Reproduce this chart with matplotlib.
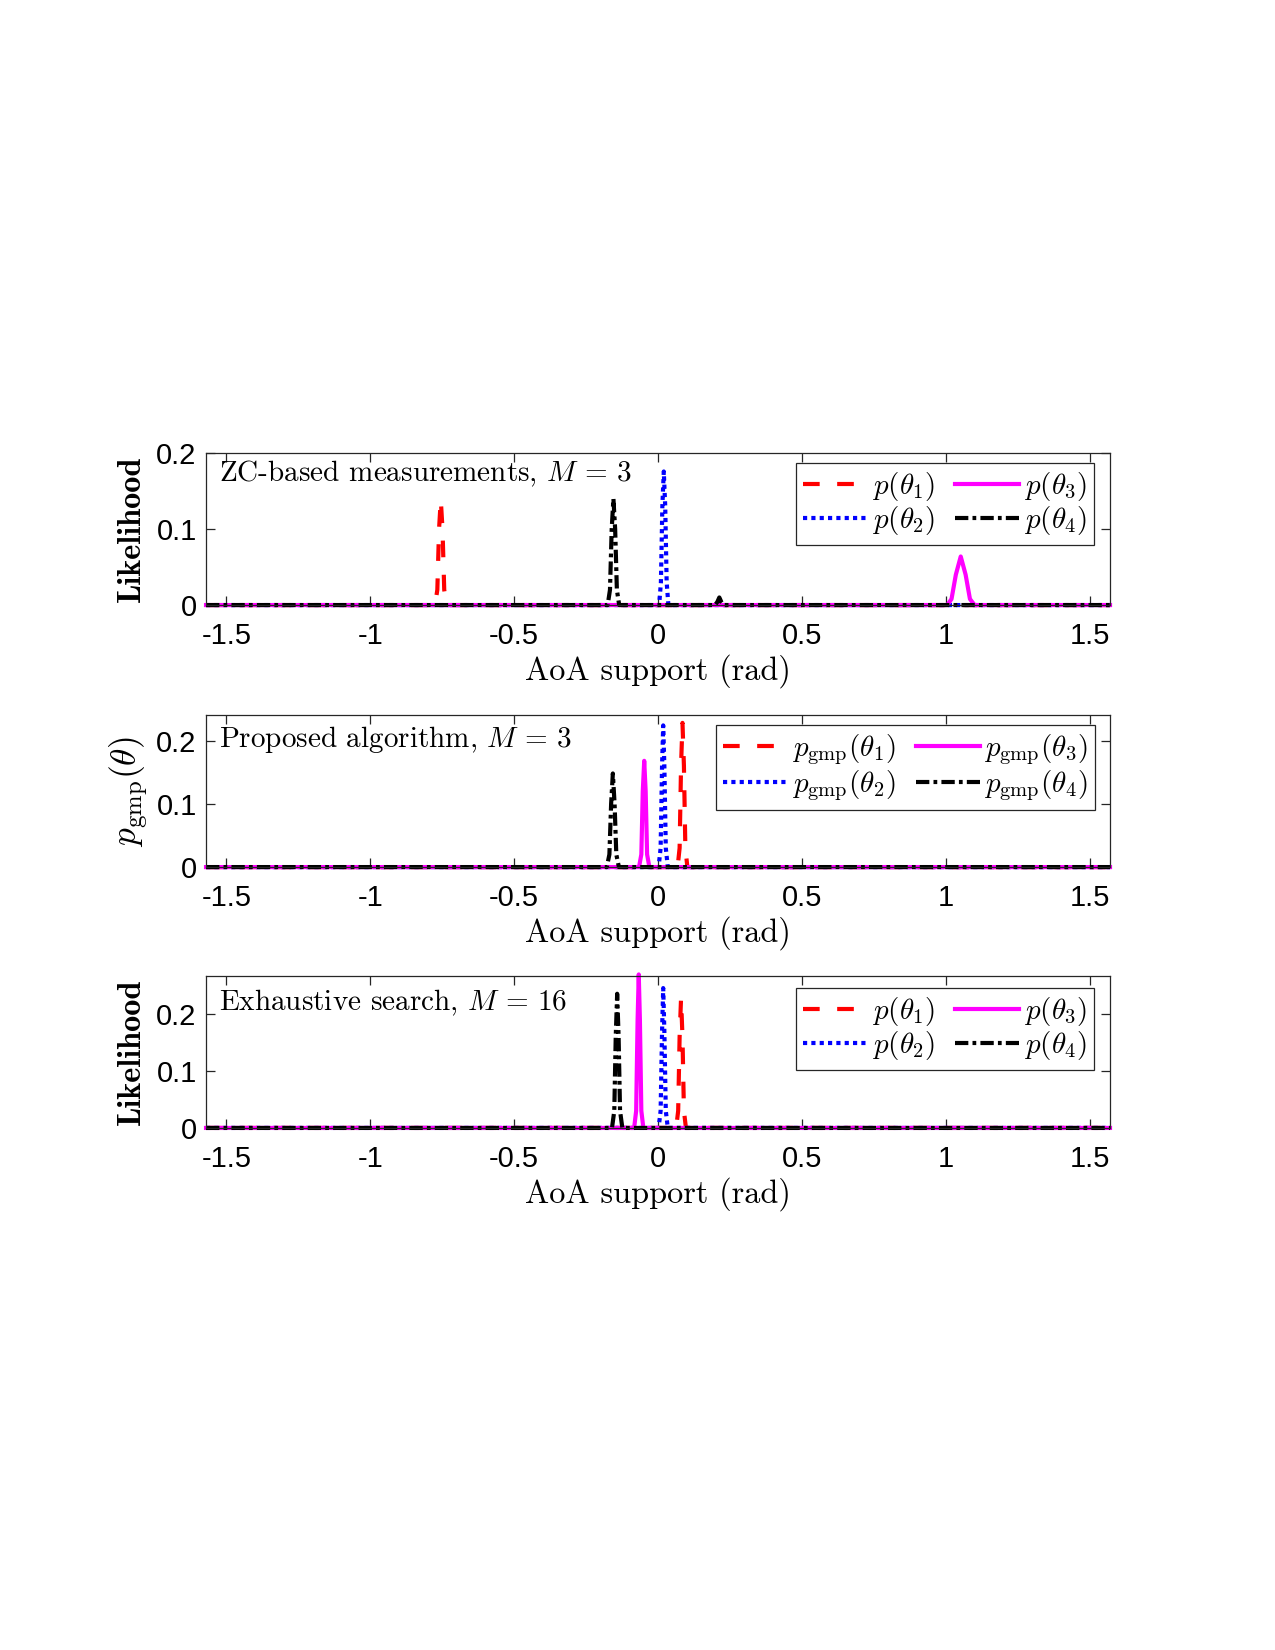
import numpy as np
from matplotlib import pyplot as plt

plt.rcParams['mathtext.fontset'] = 'cm'
plt.rcParams['axes.unicode_minus'] = False

# x range of the AoA support
aoa_min = -1.5708
aoa_max = 1.5708

# --- ZC-based measurements, M = 3 ---
zc_aoa_1 = [aoa_min, -0.775, -0.767, -0.761, -0.755, -0.749, -0.743, -0.735, aoa_max]
zc_lik_1 = [0, 0, 0.02, 0.10, 0.139, 0.10, 0.02, 0, 0]
zc_aoa_2 = [aoa_min, 0.004, 0.010, 0.015, 0.020, 0.025, 0.030, 0.036, aoa_max]
zc_lik_2 = [0, 0, 0.03, 0.13, 0.176, 0.13, 0.03, 0, 0]
zc_aoa_3 = [aoa_min, 1.005, 1.020, 1.035, 1.052, 1.069, 1.084, 1.100, aoa_max]
zc_lik_3 = [0, 0, 0.008, 0.04, 0.064, 0.04, 0.008, 0, 0]
zc_aoa_4 = [aoa_min, -0.175, -0.167, -0.161, -0.155, -0.149, -0.143, -0.135,
            0.198, 0.206, 0.213, 0.220, 0.228, aoa_max]
zc_lik_4 = [0, 0, 0.02, 0.10, 0.14, 0.10, 0.02, 0, 0, 0.004, 0.01, 0.004, 0, 0]

# --- Proposed algorithm, M = 3 ---
gmp_aoa_1 = [aoa_min, 0.068, 0.075, 0.080, 0.085, 0.090, 0.095, 0.102, aoa_max]
gmp_lik_1 = [0, 0, 0.03, 0.16, 0.228, 0.16, 0.03, 0, 0]
gmp_aoa_2 = [aoa_min, 0.002, 0.009, 0.014, 0.018, 0.022, 0.027, 0.034, aoa_max]
gmp_lik_2 = [0, 0, 0.03, 0.16, 0.224, 0.16, 0.03, 0, 0]
gmp_aoa_3 = [aoa_min, -0.066, -0.058, -0.053, -0.048, -0.043, -0.038, -0.030, aoa_max]
gmp_lik_3 = [0, 0, 0.02, 0.12, 0.168, 0.12, 0.02, 0, 0]
gmp_aoa_4 = [aoa_min, -0.178, -0.169, -0.163, -0.157, -0.151, -0.145, -0.136, aoa_max]
gmp_lik_4 = [0, 0, 0.02, 0.10, 0.148, 0.10, 0.02, 0, 0]

# --- Exhaustive search, M = 16 ---
exh_aoa_1 = [aoa_min, 0.063, 0.070, 0.075, 0.080, 0.085, 0.090, 0.097, aoa_max]
exh_lik_1 = [0, 0, 0.03, 0.16, 0.228, 0.16, 0.03, 0, 0]
exh_aoa_2 = [aoa_min, 0.002, 0.009, 0.014, 0.018, 0.022, 0.027, 0.034, aoa_max]
exh_lik_2 = [0, 0, 0.03, 0.17, 0.246, 0.17, 0.03, 0, 0]
exh_aoa_3 = [aoa_min, -0.083, -0.076, -0.071, -0.067, -0.063, -0.058, -0.051, aoa_max]
exh_lik_3 = [0, 0, 0.03, 0.19, 0.27, 0.19, 0.03, 0, 0]
exh_aoa_4 = [aoa_min, -0.160, -0.152, -0.147, -0.142, -0.137, -0.132, -0.124, aoa_max]
exh_lik_4 = [0, 0, 0.03, 0.16, 0.236, 0.16, 0.03, 0, 0]

xtick_vals = [-1.5, -1, -0.5, 0, 0.5, 1, 1.5]
xtick_labels = ['-1.5', '-1', '-0.5', '0', '0.5', '1', '1.5']

panels = [
    dict(curves=[(zc_aoa_1, zc_lik_1), (zc_aoa_2, zc_lik_2), (zc_aoa_3, zc_lik_3), (zc_aoa_4, zc_lik_4)],
         ylim=0.2, yticks=[0, 0.1, 0.2], yticklabels=['0', '0.1', '0.2'],
         note=r'ZC-based measurements, $M\,=\,3$', note_y=0.865,
         ylabel='Likelihood', legend_names=[r'$p(\theta_%d)$' % k for k in range(1, 5)],
         leg_anchor=(0.9825, 0.9375)),
    dict(curves=[(gmp_aoa_1, gmp_lik_1), (gmp_aoa_2, gmp_lik_2), (gmp_aoa_3, gmp_lik_3), (gmp_aoa_4, gmp_lik_4)],
         ylim=0.24, yticks=[0, 0.1, 0.2], yticklabels=['0', '0.1', '0.2'],
         note=r'Proposed algorithm, $M\,=\,3$', note_y=0.84,
         ylabel=r'$p_{\mathrm{gmp}}(\theta)$',
         legend_names=[r'$p_{\mathrm{gmp}}(\theta_%d)$' % k for k in range(1, 5)],
         leg_anchor=(0.9837, 0.9375)),
    dict(curves=[(exh_aoa_1, exh_lik_1), (exh_aoa_2, exh_lik_2), (exh_aoa_3, exh_lik_3), (exh_aoa_4, exh_lik_4)],
         ylim=0.267, yticks=[0, 0.1, 0.2], yticklabels=['0', '0.1', '0.2'],
         note=r'Exhaustive search, $M\,=\,16$', note_y=0.825,
         ylabel='Likelihood', legend_names=[r'$p(\theta_%d)$' % k for k in range(1, 5)],
         leg_anchor=(0.9825, 0.924)),
]

colors = ['#ff0000', '#0000ff', '#ff00ff', '#000000']
dash_styles = [(0, (4, 4.2)), (0, (1, 1)), 'solid', (0, (3.2, 1.0, 0.9, 1.0))]

fig = plt.figure(figsize=(8.5, 11), dpi=150)
bottoms = [0.6333, 0.4745, 0.3164]

for i, p in enumerate(panels):
    ax = fig.add_axes([0.1616, bottoms[i], 0.709, 0.092])
    lines = []
    for (xs, ys), c, ls in zip(p['curves'], colors, dash_styles):
        ln, = ax.plot(xs, ys, color=c, linestyle=ls, linewidth=2.0, clip_on=False,
                      dash_capstyle='butt')
        lines.append(ln)
    ax.set_xlim(aoa_min, aoa_max)
    ax.set_ylim(0, p['ylim'])
    ax.set_xticks(xtick_vals)
    ax.set_xticklabels(xtick_labels, fontfamily='Liberation Sans', fontsize=14)
    ax.set_yticks(p['yticks'])
    ax.set_yticklabels(p['yticklabels'], fontfamily='Liberation Sans', fontsize=14)
    ax.tick_params(direction='in', top=True, right=True, length=4.5, width=0.6,
                   color='#262626')
    ax.tick_params(axis='x', pad=8)
    ax.tick_params(axis='y', pad=4.5)
    for s in ax.spines.values():
        s.set_linewidth(0.6)
        s.set_color('#262626')
    ax.set_xlabel('AoA support (rad)', fontfamily='cmr10', fontsize=15.5, labelpad=2)
    if p['ylabel'] == 'Likelihood':
        ax.set_ylabel(p['ylabel'], fontfamily='cmb10', fontsize=15.5, labelpad=5)
    else:
        ax.set_ylabel(p['ylabel'], fontsize=17, labelpad=3)
    ax.text(0.014, p['note_y'], p['note'], transform=ax.transAxes, fontfamily='cmr10',
            fontsize=14.0, va='center', ha='left')
    leg = ax.legend(lines, p['legend_names'], ncol=2, loc='upper right',
                    bbox_to_anchor=p['leg_anchor'], borderaxespad=0, fontsize=14,
                    handlelength=2.2, handletextpad=0.15, columnspacing=0.7,
                    labelspacing=0.05, borderpad=0.25, fancybox=False, framealpha=1,
                    edgecolor='#262626')
    leg.get_frame().set_linewidth(0.6)

plt.savefig('out.png', dpi=150)
